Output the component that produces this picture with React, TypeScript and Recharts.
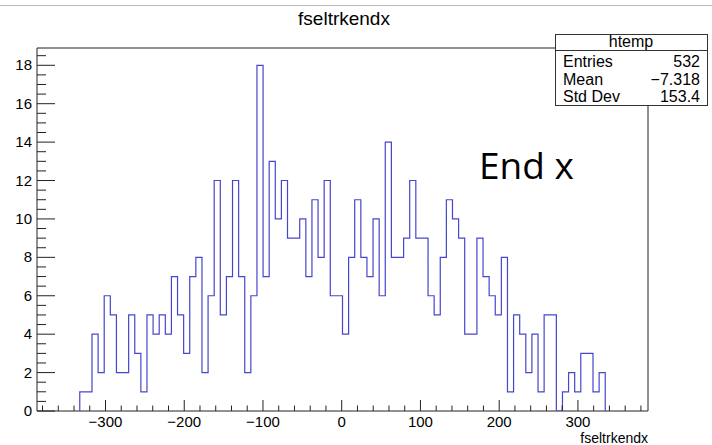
import React from 'react';
import { ComposedChart, Line, XAxis, YAxis, ReferenceArea } from 'recharts';

// histogram of fseltrkendx: 100 equal bins between X_MIN and X_MAX
const X_MIN = -387;
const X_MAX = 389;
const N_BINS = 100;
const binCounts = [
  0, 0, 0, 0, 0, 0, 0, 1, 1, 4,
  2, 6, 5, 2, 2, 5, 3, 1, 5, 4,
  5, 4, 7, 5, 3, 7, 8, 2, 6, 12,
  5, 7, 12, 7, 2, 6, 18, 7, 13, 10,
  12, 9, 9, 10, 7, 11, 8, 12, 6, 6,
  4, 8, 11, 8, 7, 10, 6, 14, 8, 8,
  9, 12, 9, 9, 6, 5, 8, 11, 10, 9,
  4, 4, 9, 7, 6, 5, 8, 1, 5, 4,
  2, 4, 1, 5, 5, 0, 1, 2, 1, 3,
  3, 1, 2, 0, 0, 0, 0, 0, 0, 0,
];

const Y_MAX = 18.9;
const xMajorTicks = [-300, -200, -100, 0, 100, 200, 300];
const yMajorTicks = [0, 2, 4, 6, 8, 10, 12, 14, 16, 18];

const statsEntries = '532';
const statsMean = '\u22127.318';
const statsStdDev = '153.4';

const FONT = '"Liberation Sans", Arial, Helvetica, sans-serif';
const LINE_COLOR = '#4646cc';

// minor ticks: every 20 on x, every 0.5 on y
const xTicks: number[] = [];
for (let v = -380; v <= 380; v += 20) xTicks.push(v);
const yTicks: number[] = [];
for (let k = 0; k <= 37; k++) yTicks.push(k / 2);

// outline points for a step line: low edge of every bin, closed down to zero at both ends
const binWidth = (X_MAX - X_MIN) / N_BINS;
const edge = (i: number) => X_MIN + i * binWidth;
const firstBin = binCounts.findIndex((c) => c > 0);
let lastBin = binCounts.length - 1;
while (lastBin > 0 && binCounts[lastBin] === 0) lastBin--;

const outline: { x: number; y: number }[] = [{ x: edge(firstBin), y: 0 }];
for (let i = firstBin; i <= lastBin; i++) outline.push({ x: edge(i), y: binCounts[i] });
outline.push({ x: edge(lastBin + 1), y: 0 });

const fmtNum = (v: number) => (v < 0 ? '\u2212' + Math.abs(v) : String(v));

const XTick = ({ x, y, payload }: any) => {
  const major = xMajorTicks.includes(payload.value);
  return (
    <g>
      <line x1={x} x2={x} y1={y} y2={y - (major ? 11 : 5.5)} stroke="#222" />
      {major && (
        <text x={x} y={y + 15.5} textAnchor="middle" fontSize={15} fontFamily={FONT} fill="#000">
          {fmtNum(payload.value)}
        </text>
      )}
    </g>
  );
};

const YTick = ({ x, y, payload }: any) => {
  const major = yMajorTicks.includes(payload.value);
  return (
    <g>
      <line x1={x} x2={x + (major ? 18 : 9)} y1={y} y2={y} stroke="#222" />
      {major && (
        <text x={x - 5} y={y + 5} textAnchor="end" fontSize={15} fontFamily={FONT} fill="#000">
          {payload.value}
        </text>
      )}
    </g>
  );
};

export default function App() {
  return (
    <div style={{ position: 'absolute', left: 0, top: 0, width: 712, height: 445, background: '#fff' }}>
      <ComposedChart
        width={712}
        height={445}
        data={outline}
        margin={{ top: 48, right: 64, bottom: 0, left: 0 }}
      >
        <XAxis
          dataKey="x"
          type="number"
          domain={[X_MIN, X_MAX]}
          allowDataOverflow
          ticks={xTicks}
          interval={0}
          height={34}
          tickSize={0}
          tickMargin={0}
          tickLine={false}
          axisLine={false}
          tick={<XTick />}
        />
        <YAxis
          type="number"
          domain={[0, Y_MAX]}
          allowDataOverflow
          ticks={yTicks}
          interval={0}
          width={37}
          tickSize={0}
          tickMargin={0}
          tickLine={false}
          axisLine={false}
          tick={<YTick />}
        />
        <Line
          dataKey="y"
          type="stepAfter"
          stroke={LINE_COLOR}
          strokeWidth={1.2}
          dot={false}
          activeDot={false}
          isAnimationActive={false}
        />
        <ReferenceArea
          x1={X_MIN}
          x2={X_MAX}
          y1={0}
          y2={Y_MAX}
          fill="none"
          fillOpacity={0}
          stroke="#222"
          strokeWidth={1}
          strokeOpacity={1}
        />
      </ComposedChart>

      <svg
        width={712}
        height={445}
        style={{ position: 'absolute', left: 0, top: 0, pointerEvents: 'none' }}
      >
        <line x1={0} x2={712} y1={5.5} y2={5.5} stroke="#bbb" />
        <text x={344} y={25} textAnchor="middle" fontSize={19} fontFamily={FONT} fill="#000">
          fseltrkendx
        </text>

        <rect x={555.5} y={34.5} width={152} height={71} fill="#fff" stroke="#333" />
        <line x1={555.5} x2={707.5} y1={50.5} y2={50.5} stroke="#333" />
        <text x={631} y={47} textAnchor="middle" fontSize={16} fontFamily={FONT} fill="#000">
          htemp
        </text>
        <text x={563} y={67} fontSize={16} fontFamily={FONT} fill="#000">Entries</text>
        <text x={700} y={67} textAnchor="end" fontSize={16} fontFamily={FONT} fill="#000">{statsEntries}</text>
        <text x={563} y={85} fontSize={16} fontFamily={FONT} fill="#000">Mean</text>
        <text x={700} y={85} textAnchor="end" fontSize={16} fontFamily={FONT} fill="#000">{statsMean}</text>
        <text x={563} y={102} fontSize={16} fontFamily={FONT} fill="#000">Std Dev</text>
        <text x={700} y={102} textAnchor="end" fontSize={16} fontFamily={FONT} fill="#000">{statsStdDev}</text>

        <text x={479} y={179} fontSize={37} fontFamily='"Open Sans", Lato, sans-serif' fill="#000">
          End x
        </text>

        <text x={648} y={443} textAnchor="end" fontSize={14} fontFamily={FONT} fill="#000">
          fseltrkendx
        </text>
      </svg>
    </div>
  );
}
